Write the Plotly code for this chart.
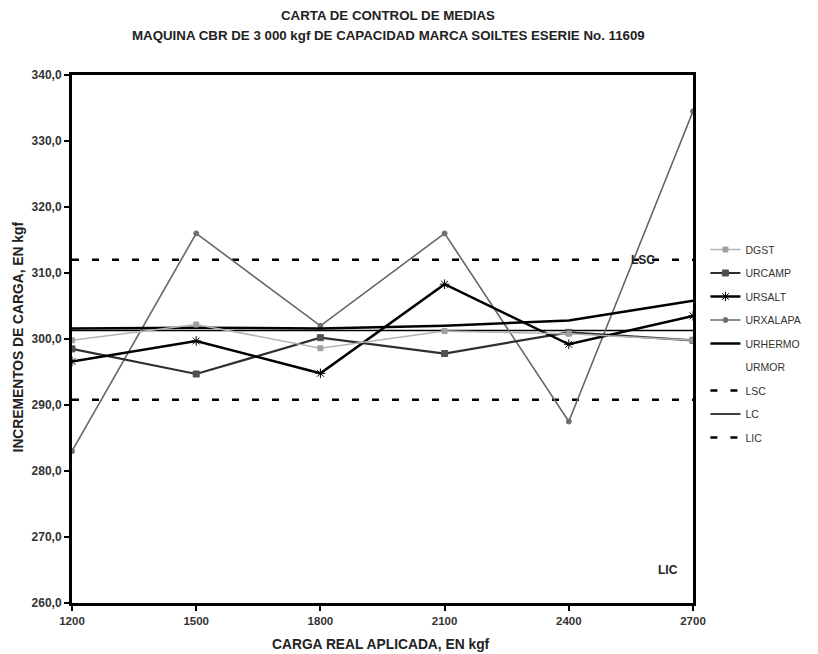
import plotly.graph_objects as go

# Applied load (kgf) and mean load increments per laboratory
carga = [1200, 1500, 1800, 2100, 2400, 2700]
dgst = [299.8, 302.2, 298.6, 301.2, 300.8, 299.8]
urcamp = [298.5, 294.7, 300.2, 297.8, 301.0, 299.8]
ursalt = [296.6, 299.7, 294.8, 308.3, 299.2, 303.5]
urxalapa = [283.0, 316.0, 302.0, 316.0, 287.5, 334.5]
urhermo = [301.6, 301.7, 301.6, 302.0, 302.8, 305.8]
urmor = [None, None, None, None, None, None]

# Control limits
lsc = [312.0, 312.0, 312.0, 312.0, 312.0, 312.0]
lc = [301.3, 301.3, 301.3, 301.3, 301.3, 301.3]
lic = [290.8, 290.8, 290.8, 290.8, 290.8, 290.8]

y_ticks = [260, 270, 280, 290, 300, 310, 320, 330, 340]
y_labels = ["260,0", "270,0", "280,0", "290,0", "300,0", "310,0", "320,0", "330,0", "340,0"]

FONT = "Liberation Sans"
W, H = 818, 654
M = dict(l=72, r=120, t=75, b=51)
PH = H - M["t"] - M["b"]
PW = W - M["l"] - M["r"]

def py(px):
    """paper y from a pixel row measured from the top"""
    return (H - M["b"] - px) / PH

def pxx(px):
    """paper x from a pixel column measured from the left"""
    return (px - M["l"]) / PW

fig = go.Figure()

def add(name, y, color, width, dash="solid", symbol=None, msize=6, mcolor=None):
    mode = "lines+markers" if symbol else "lines"
    kw = dict(x=carga, y=y, name=name, mode=mode,
              line=dict(color=color, width=width, dash=dash),
              legendgroup=name)
    if symbol:
        kw["marker"] = dict(symbol=symbol, size=msize, color=mcolor or color,
                            line=dict(color=mcolor or color, width=1))
    fig.add_trace(go.Scatter(**kw))

add("LSC", lsc, "black", 2.5, dash="7px,13px")
add("LC", lc, "black", 1.5)
add("LIC", lic, "black", 2.5, dash="7px,13px")
add("URXALAPA", urxalapa, "#666666", 1.6, symbol="circle", msize=5, mcolor="#707070")
add("URHERMO", urhermo, "black", 2.5)
add("URCAMP", urcamp, "#2e2e2e", 2.2, symbol="square", msize=6, mcolor="#505050")
add("URSALT", ursalt, "black", 2.5, symbol="asterisk-open", msize=8)
add("DGST", dgst, "#b4b4b4", 1.6, symbol="square", msize=5, mcolor="#a0a0a0")
add("URMOR", urmor, "white", 2)

# legend order as listed in the key
order = ["DGST", "URCAMP", "URSALT", "URXALAPA", "URHERMO", "URMOR", "LSC", "LC", "LIC"]
for tr in fig.data:
    tr.legendrank = order.index(tr.name) + 1

fig.add_annotation(x=2580, y=312.0, text="<b>LSC</b>", showarrow=False,
                   font=dict(family=FONT, size=12, color="#222"), yanchor="middle")
fig.add_annotation(x=2640, y=265.0, text="<b>LIC</b>", showarrow=False,
                   font=dict(family=FONT, size=12, color="#222"), yanchor="middle")

# titles
tfont = dict(family=FONT, size=13.3, color="#222")
afont = dict(family=FONT, size=13.8, color="#222")
fig.add_annotation(xref="paper", yref="paper", x=pxx(391), y=py(16),
                   text="<b>CARTA DE CONTROL DE MEDIAS</b>", showarrow=False,
                   font=tfont, xanchor="center", yanchor="middle")
fig.add_annotation(xref="paper", yref="paper", x=pxx(391), y=py(35),
                   text="<b>MAQUINA CBR DE 3 000 kgf DE CAPACIDAD MARCA SOILTES ESERIE No. 11609</b>",
                   showarrow=False, font=tfont, xanchor="center", yanchor="middle")
fig.add_annotation(xref="paper", yref="paper", x=pxx(383), y=py(644),
                   text="<b>CARGA REAL APLICADA, EN kgf</b>", showarrow=False,
                   font=afont, xanchor="center", yanchor="middle")
fig.add_annotation(xref="paper", yref="paper", x=pxx(18), y=py(337),
                   text="<b>INCREMENTOS DE CARGA, EN kgf</b>", showarrow=False,
                   font=afont, textangle=-90, xanchor="center", yanchor="middle")

axis_common = dict(showline=True, linecolor="black", linewidth=3, mirror=True,
                   showgrid=False, zeroline=False, ticks="outside", ticklen=5,
                   tickwidth=2, tickcolor="black", automargin=False)

fig.update_xaxes(range=[1200, 2700], tickvals=carga,
                 ticktext=[f"<b>{v}</b>" for v in carga],
                 tickfont=dict(family=FONT, size=11.5, color="#333"),
                 **axis_common)
fig.update_yaxes(range=[260, 340], tickvals=y_ticks,
                 ticktext=[f"<b>{t}</b>" for t in y_labels],
                 tickfont=dict(family=FONT, size=12, color="#333"),
                 **axis_common)

fig.update_layout(
    width=W, height=H,
    paper_bgcolor="white", plot_bgcolor="white",
    margin=M,
    legend=dict(x=1.02, xanchor="left", y=py(235), yanchor="top",
                font=dict(family=FONT, size=10.5, color="#333"),
                tracegroupgap=4.5, itemwidth=30, bgcolor="rgba(0,0,0,0)"),
    showlegend=True,
)

fig.write_html("out.html")
